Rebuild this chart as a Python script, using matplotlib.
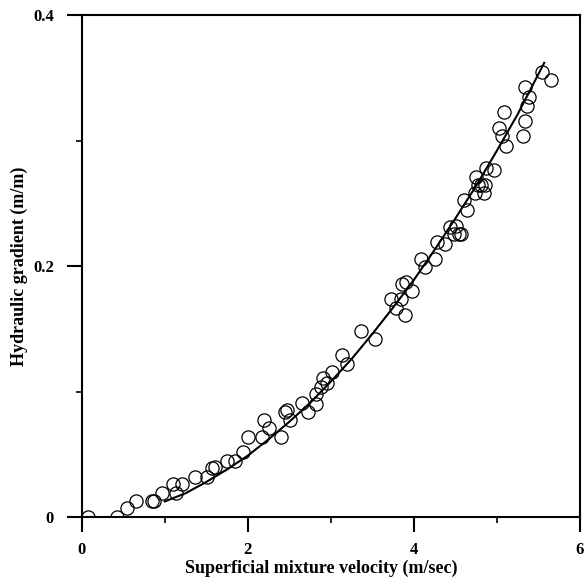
import numpy as np
import matplotlib.pyplot as plt
from matplotlib.ticker import MultipleLocator

vel = [0.08, 0.42, 0.55, 0.65, 0.84, 0.87, 0.97, 1.10, 1.14, 1.21, 1.36, 1.51,
       1.57, 1.60, 1.75, 1.85, 1.94, 2.00, 2.17, 2.20, 2.25, 2.40, 2.45, 2.47,
       2.51, 2.65, 2.73, 2.82, 2.82, 2.88, 2.90, 2.95, 3.01, 3.13, 3.19, 3.36,
       3.53, 3.73, 3.79, 3.84, 3.89, 3.86, 3.90, 3.98, 4.09, 4.13, 4.25, 4.28,
       4.38, 4.44, 4.51, 4.48, 4.54, 4.57, 4.60, 4.64, 4.74, 4.75, 4.81, 4.77,
       4.86, 4.84, 4.87, 4.97, 5.02, 5.06, 5.11, 5.09, 5.32, 5.34, 5.36, 5.39,
       5.34, 5.54, 5.65]
grad = [0.000, 0.000, 0.007, 0.013, 0.013, 0.013, 0.019, 0.026, 0.019, 0.026,
        0.032, 0.032, 0.039, 0.040, 0.045, 0.045, 0.052, 0.064, 0.064, 0.077,
        0.071, 0.064, 0.084, 0.085, 0.077, 0.091, 0.084, 0.090, 0.098, 0.104,
        0.111, 0.107, 0.116, 0.129, 0.122, 0.148, 0.142, 0.174, 0.167, 0.174,
        0.161, 0.186, 0.187, 0.180, 0.206, 0.199, 0.206, 0.219, 0.218, 0.231,
        0.232, 0.226, 0.226, 0.226, 0.253, 0.245, 0.258, 0.271, 0.265, 0.265,
        0.265, 0.258, 0.278, 0.277, 0.310, 0.304, 0.296, 0.323, 0.304, 0.316,
        0.328, 0.335, 0.343, 0.355, 0.348]

# fitted curve
fit_v = [1.00, 1.25, 1.50, 1.75, 2.00, 2.25, 2.50, 2.75, 3.00, 3.25, 3.50,
         3.75, 4.00, 4.25, 4.50, 4.75, 5.00, 5.25, 5.57]
fit_g = [0.0125, 0.019, 0.028, 0.038, 0.049, 0.062, 0.076, 0.091, 0.108,
         0.126, 0.146, 0.167, 0.189, 0.213, 0.238, 0.264, 0.292, 0.321, 0.362]

x_ticks = [0, 2, 4, 6]
x_labels = ['0', '2', '4', '6']
y_ticks = [0, 0.2, 0.4]
y_labels = ['0', '0.2', '0.4']

plt.rcParams['font.family'] = 'Liberation Serif'
plt.rcParams['font.weight'] = 'bold'

fig = plt.figure(figsize=(5.84, 5.83), dpi=100)
ax = fig.add_axes([0.140, 0.113, 0.853, 0.861])

ax.plot(vel, grad, 'o', mfc='none', mec='black', ms=9.5, mew=0.9, zorder=3)
ax.plot(fit_v, fit_g, color='black', lw=1.5, zorder=2)

ax.set_xlim(0, 6)
ax.set_ylim(0, 0.4)
ax.set_xticks(x_ticks)
ax.set_xticklabels(x_labels)
ax.set_yticks(y_ticks)
ax.set_yticklabels(y_labels)
ax.xaxis.set_minor_locator(MultipleLocator(1))
ax.yaxis.set_minor_locator(MultipleLocator(0.1))

ax.tick_params(which='major', direction='out', length=11, width=1.5,
               labelsize=12, pad=7)
ax.tick_params(which='minor', direction='out', length=4.5, width=1.2)
ax.tick_params(axis='y', which='major', pad=9)
for s in ax.spines.values():
    s.set_linewidth(1.5)

ax.set_xlabel('Superficial mixture velocity (m/sec)', fontsize=13,
              fontweight='bold', labelpad=2)
ax.xaxis.set_label_coords(0.48, -0.085)
ax.set_ylabel('Hydraulic gradient (m/m)', fontsize=13, fontweight='bold',
              labelpad=4)

fig.savefig('out.png', dpi=100)
